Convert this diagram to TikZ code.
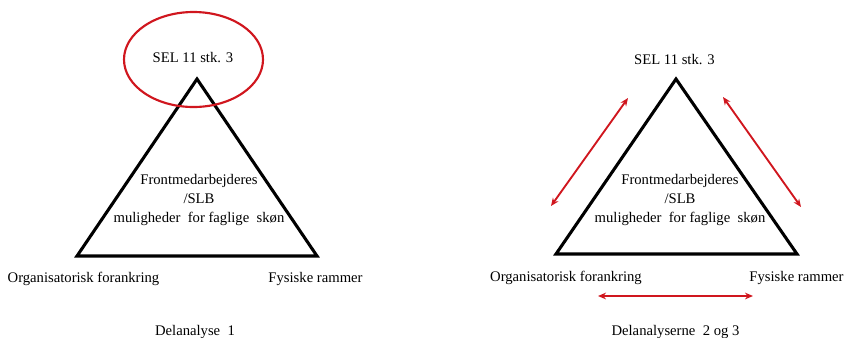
\documentclass[tikz,border=0pt]{standalone}
\usepackage{fontspec}
\setmainfont{Liberation Serif}
\usetikzlibrary{arrows.meta,shapes.geometric}
\definecolor{redline}{RGB}{208,22,30}
\tikzset{
  tri/.style={draw=black, line width=2.3pt, line join=miter},
  lbl/.style={font=\fontsize{11}{13.9}\selectfont, inner sep=0pt, align=center},
  ring/.style={draw=redline, line width=1.6pt},
  link/.style={draw=redline, line width=1.4pt, {Stealth[length=6pt,width=5pt]}-{Stealth[length=6pt,width=5pt]}}
}
\begin{document}
\begin{tikzpicture}[x=0.75pt,y=-0.75pt]
\useasboundingbox (0,0) rectangle (845,337);
% left diagram
\coordinate (LA) at (197,79);
\coordinate (LB) at (77,256);
\coordinate (LC) at (317,256);
\draw[tri] (LA) -- (LB) -- (LC) -- cycle;
\node[ring, ellipse, minimum width=104.25pt, minimum height=71.25pt, inner sep=0pt] (ring) at (193.5,59.5) {};
\node[lbl] (lsel) at (193,58) {SEL 11 stk. 3};
\node[lbl] (lin) at (199,200) {Frontmedarbejderes\\/SLB\\muligheder\ \ for faglige\ \ skøn};
\node[lbl] (lorg) at (83.5,279) {Organisatorisk\ forankring};
\node[lbl] (lfys) at (315.5,279) {Fysiske rammer};
\node[lbl] (ldel) at (195,332) {Delanalyse\ \ 1};
% right diagram
\coordinate (RA) at (676,79);
\coordinate (RB) at (556,254);
\coordinate (RC) at (797,254);
\draw[tri] (RA) -- (RB) -- (RC) -- cycle;
\node[lbl] (rsel) at (674.5,60) {SEL 11 stk. 3};
\node[lbl] (rin) at (680,200) {Frontmedarbejderes\\/SLB\\muligheder\ \ for faglige\ \ skøn};
\node[lbl] (rorg) at (566,278) {Organisatorisk\ forankring};
\node[lbl] (rfys) at (796.5,278) {Fysiske rammer};
\node[lbl] (rdel) at (675.5,332) {Delanalyserne\ \ 2 og 3};
\coordinate (a1) at (551,206);
\coordinate (a2) at (628,98);
\coordinate (b1) at (723,97);
\coordinate (b2) at (801,207);
\coordinate (c1) at (598,296);
\coordinate (c2) at (753,296);
\draw[link] (a1) -- (a2);
\draw[link] (b1) -- (b2);
\draw[link] (c1) -- (c2);
\end{tikzpicture}
\end{document}
